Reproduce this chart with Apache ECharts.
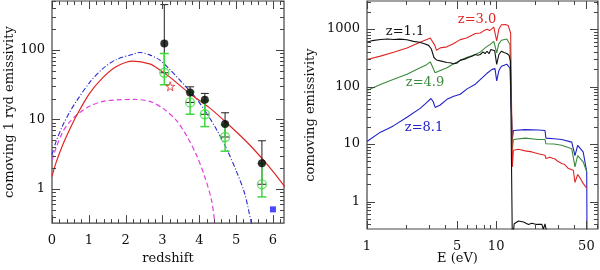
<!DOCTYPE html>
<html><head><meta charset="utf-8">
<script src="https://cdn.jsdelivr.net/npm/echarts@6/dist/echarts.min.js"></script>
<style>html,body{margin:0;padding:0;background:#fff}#c{width:600px;height:270px}</style>
</head><body><div id="c"></div>
<script>
// ---------- LEFT PANEL DATA ----------
var redZ = [0, 0.11, 0.29, 0.47, 0.66, 1.02, 1.38, 1.74, 2.2, 2.65, 2.92, 3.19, 3.74, 4.28, 4.82, 5.37, 5.91, 6.32];
var redV = [1.52, 2.4, 4.3, 7.0, 11.2, 23.7, 40, 57.5, 69, 63, 52, 41, 23.7, 14.7, 8.2, 4.3, 2.05, 1.08];
var blueZ = [0, 0.11, 0.29, 0.47, 0.66, 1.02, 1.38, 1.74, 2.2, 2.38, 2.65, 2.92, 3.19, 3.56, 3.92, 4.19, 4.46, 4.73, 5.0, 5.23, 5.41, 5.5];
var blueV = [3.1, 4.8, 8.2, 12.5, 18.2, 34, 54, 72.6, 87, 92, 85, 72, 53, 32.7, 20, 12.5, 7.3, 3.9, 1.84, 0.87, 0.33, 0.2];
var magZ = [0, 0.11, 0.29, 0.47, 0.66, 1.02, 1.38, 1.74, 2.2, 2.65, 3.01, 3.37, 3.65, 3.92, 4.15, 4.33, 4.42, 4.46];
var magV = [2.6, 3.9, 6.6, 9.1, 11.5, 15.5, 18.2, 19.1, 19.5, 18.2, 14.5, 9.8, 5.9, 3.1, 1.49, 0.70, 0.33, 0.2];

var obsZ = [3.05, 3.75, 4.15, 4.7, 5.7];
var blackV = [124, 24.5, 19.2, 8.6, 2.35];
var blackLo = [47, 17.6, 11.9, 5.6, 1.17];
var blackHi = [450, 29.5, 23.7, 12.5, 4.95];
var greenV = [47, 17.6, 11.9, 5.6, 1.17];
var greenLo = [31.6, 11.9, 7.9, 3.5, 0.77];
var greenHi = [89, 25, 18.6, 8.4, 2.33];
var starPt = [3.21, 30];
var squarePt = [6.0, 0.51];

var leftXLabels = [0, 1, 2, 3, 4, 5, 6];
var leftYLabels = [1, 10, 100];

// ---------- RIGHT PANEL DATA ----------
var z11E = [1.0, 1.1, 1.27, 1.45, 1.61, 1.8, 2.04, 2.29, 2.55, 2.75, 3.0, 3.15, 3.3, 3.45, 3.69, 4.16, 4.4, 4.7, 5.0, 5.27, 5.7, 6.1, 6.5, 6.9, 7.2, 7.55, 7.9, 8.2, 8.5, 8.8, 9.1, 9.4, 9.75, 10.1, 10.5, 11.0, 11.5, 12.1, 12.6, 12.9, 13.2, 13.35, 13.8, 14.9, 16.3, 17.8, 18.9, 20.6, 21.2, 22.6, 23.2, 23.9, 24.6, 25.5];
var z11V = [589, 630, 660, 670, 660, 668, 650, 611, 590, 560, 520, 450, 320, 290, 280, 262, 259, 250, 258, 288, 300, 320, 338, 361, 350, 361, 400, 375, 411, 372, 440, 412, 420, 243, 361, 412, 390, 375, 350, 277, 270, 0.2, 0.41, 0.46, 0.44, 0.40, 0.42, 0.40, 0.37, 0.40, 0.33, 0.41, 0.30, 0.2];
var z30E = [1.0, 1.27, 1.61, 2.04, 2.58, 2.9, 3.09, 3.2, 3.35, 3.45, 3.69, 4.16, 4.7, 5.27, 5.9, 6.5, 6.9, 7.55, 8.0, 8.5, 8.9, 9.2, 9.6, 9.9, 10.1, 10.5, 11.0, 11.8, 12.4, 12.95, 13.2, 13.35, 13.6, 14.9, 16.8, 18.9, 21.2, 23.9, 24.3, 26, 28.6, 30, 32.2, 34, 36.3, 39.6, 40.8, 42.8, 45, 47.2, 50.3];
var z30V = [296, 338, 395, 470, 589, 660, 700, 690, 520, 427, 470, 490, 560, 655, 700, 780, 835, 853, 930, 990, 940, 910, 1080, 1109, 620, 1000, 1186, 1200, 1150, 853, 800, 4.0, 7.8, 8.1, 7.6, 7.3, 6.8, 6.4, 5.6, 5.9, 5.5, 5.0, 4.6, 4.4, 3.75, 3.5, 2.15, 2.95, 2.5, 2.07, 1.7];
var z49E = [1.0, 1.27, 1.61, 2.04, 2.58, 2.9, 3.09, 3.2, 3.37, 3.69, 4.16, 4.7, 5.27, 5.9, 6.9, 7.55, 8.5, 9.0, 9.3, 9.6, 9.85, 10.1, 10.5, 11.0, 12.1, 12.8, 13.2, 13.35, 13.6, 16.8, 21.2, 23.9, 24.3, 28, 32.2, 38.5, 40.8, 42.8, 47.2, 50.3];
var z49V = [85, 109, 134, 163, 212, 240, 269, 250, 174, 191, 212, 250, 284, 320, 360, 400, 500, 540, 530, 611, 620, 385, 560, 638, 673, 537, 520, 8.0, 12.0, 12.7, 12.0, 12.0, 10.1, 10.0, 9.5, 8.3, 4.0, 6.3, 4.9, 3.3];
var z81E = [1.0, 1.27, 1.45, 1.61, 2.04, 2.58, 2.91, 3.13, 3.25, 3.37, 3.69, 4.16, 4.7, 5.27, 6.0, 6.9, 7.6, 8.5, 9.3, 9.8, 10.1, 10.5, 11.0, 12.1, 12.8, 13.2, 13.35, 13.6, 16.8, 21.2, 23.9, 24.3, 28, 32.2, 38.5, 40.8, 42.8, 47.2, 50.3, 50.6];
var z81V = [11.1, 16.1, 18.5, 20.9, 29.2, 41.7, 53, 62, 55, 43.4, 47.7, 60, 68, 73.6, 92, 110, 135, 170, 199, 205, 125, 190, 226, 245, 208, 200, 12, 17.2, 17.8, 17.5, 17.2, 12.7, 12.4, 12.0, 10.8, 6.3, 9.5, 7.3, 3.3, 0.1];

var rightXLabels = [1, 5, 10, 50];
var rightYLabels = [1, 10, 100, 1000];

// ---------- helpers ----------
function pairs(a, b) { return a.map(function (v, i) { return [v, b[i]]; }); }
var FONT = 'DejaVu Serif';
var FRAME = '#444';

function isIn(list, v) { for (var i = 0; i < list.length; i++) if (list[i] === v || Math.abs(list[i] - v) / list[i] < 1e-6) return true; return false; }

function tickData(xTicks, yTicks, xRef, yRef) {
  var d = [];
  xTicks.forEach(function (t) { d.push([t[0], yRef, t[1], 0]); });
  yTicks.forEach(function (t) { d.push([xRef, t[0], t[1], 1]); });
  return d;
}
function tickRender(params, api) {
  var cs = params.coordSys;
  var o = api.value(3), len = api.value(2);
  var p = api.coord([api.value(0), api.value(1)]);
  function st() { return { stroke: FRAME, lineWidth: 1 }; }
  if (o === 0) {
    var x = Math.round(p[0]) + 0.5;
    return { type: 'group', children: [
      { type: 'line', shape: { x1: x, y1: cs.y + cs.height, x2: x, y2: cs.y + cs.height - len }, style: st() },
      { type: 'line', shape: { x1: x, y1: cs.y, x2: x, y2: cs.y + len }, style: st() }
    ] };
  } else {
    var y = Math.round(p[1]) + 0.5;
    return { type: 'group', children: [
      { type: 'line', shape: { x1: cs.x, y1: y, x2: cs.x + len, y2: y }, style: st() },
      { type: 'line', shape: { x1: cs.x + cs.width, y1: y, x2: cs.x + cs.width - len, y2: y }, style: st() }
    ] };
  }
}
var MAJ = 8, MIN = 4;
var lxt = [];
for (var i = 0; i <= 31; i++) { var v = i * 0.2; if (v <= 6.3) lxt.push([Math.round(v * 10) / 10, (i % 5 === 0) ? MAJ : MIN]); }
var lyt = [];
[0.1, 1, 10, 100].forEach(function (dec) {
  for (var k = 1; k <= 9; k++) { var v = dec * k; if (v >= 0.33 && v <= 506) lyt.push([v, k === 1 ? MAJ : MIN]); }
});
var rxt = [];
[1, 10].forEach(function (dec) {
  for (var k = 1; k <= 9; k++) { var v = dec * k; if (v >= 1 && v <= 61.5) rxt.push([v, (k === 1 || k === 5) ? MAJ : MIN]); }
});
var ryt = [];
[0.1, 1, 10, 100, 1000].forEach(function (dec) {
  for (var k = 1; k <= 9; k++) { var v = dec * k; if (v >= 0.34 && v <= 3076) ryt.push([v, k === 1 ? MAJ : MIN]); }
});

function errRender(color, capW, lw) {
  return function (params, api) {
    var x = api.value(0), lo = api.value(2), hi = api.value(3);
    var a = api.coord([x, lo]), b = api.coord([x, hi]);
    function st() { return { stroke: color, lineWidth: lw }; }
    return { type: 'group', children: [
      { type: 'line', shape: { x1: a[0], y1: a[1], x2: b[0], y2: b[1] }, style: st() },
      { type: 'line', shape: { x1: a[0] - capW, y1: a[1], x2: a[0] + capW, y2: a[1] }, style: st() },
      { type: 'line', shape: { x1: b[0] - capW, y1: b[1], x2: b[0] + capW, y2: b[1] }, style: st() }
    ] };
  };
}
function errData(z, v, lo, hi) { return z.map(function (x, i) { return [x, v[i], lo[i], hi[i]]; }); }

var labelStyle = { fontFamily: FONT, fontSize: 13, color: '#111' };
var nameStyle = { fontFamily: FONT, fontSize: 13, color: '#111' };

var chart = echarts.init(document.getElementById('c'), null, { renderer: 'canvas' });
var option = {
  animation: false,
  backgroundColor: '#fff',
  grid: [
    { left: 52, top: 1, width: 232, height: 230, show: true, borderColor: FRAME, borderWidth: 1.2, backgroundColor: 'transparent' },
    { left: 367, top: 1, width: 231, height: 230, show: true, borderColor: FRAME, borderWidth: 1.2, backgroundColor: 'transparent' }
  ],
  xAxis: [
    { type: 'value', gridIndex: 0, min: 0, max: 6.3, interval: 1,
      axisLine: { show: false }, axisTick: { show: false }, splitLine: { show: false },
      axisLabel: Object.assign({ margin: 11, showMaxLabel: false, formatter: function (v) { return isIn(leftXLabels, v) ? String(v) : ''; } }, labelStyle),
      name: 'redshift', nameLocation: 'middle', nameGap: 23, nameTextStyle: nameStyle },
    { type: 'log', gridIndex: 1, min: 1, max: 61.5, logBase: 10,
      axisLine: { show: false }, axisTick: { show: false }, splitLine: { show: false },
      axisLabel: { show: false },
      name: 'E (eV)', nameLocation: 'middle', nameGap: 23, nameTextStyle: Object.assign({ padding: [0, 50, 0, 0] }, nameStyle) }
  ],
  yAxis: [
    { type: 'log', gridIndex: 0, min: 0.3236, max: 506, logBase: 10,
      axisLine: { show: false }, axisTick: { show: false }, splitLine: { show: false },
      axisLabel: Object.assign({ margin: 7, showMinLabel: false, showMaxLabel: false, formatter: function (v) { return isIn(leftYLabels, v) ? String(Math.round(v)) : ''; } }, labelStyle),
      name: 'comoving 1 ryd emissivity', nameLocation: 'middle', nameGap: 32, nameTextStyle: nameStyle },
    { type: 'log', gridIndex: 1, min: 0.333, max: 3076, logBase: 10,
      axisLine: { show: false }, axisTick: { show: false }, splitLine: { show: false },
      axisLabel: Object.assign({ margin: 7, showMinLabel: false, showMaxLabel: false, formatter: function (v) { return isIn(rightYLabels, v) ? String(Math.round(v)) : ''; } }, labelStyle),
      name: 'comoving emissivity', nameLocation: 'middle', nameGap: 50, nameTextStyle: nameStyle }
  ],
  series: [
    { type: 'custom', xAxisIndex: 0, yAxisIndex: 0, data: tickData(lxt, lyt, 1, 1), renderItem: tickRender, silent: true, z: 10 },
    { type: 'custom', xAxisIndex: 1, yAxisIndex: 1, data: tickData(rxt, ryt, 2, 1), renderItem: tickRender, silent: true, z: 10 },
    { type: 'custom', xAxisIndex: 1, yAxisIndex: 1, data: rightXLabels.map(function (v) { return [v, 1]; }), silent: true, z: 10,
      renderItem: function (params, api) {
        var cs = params.coordSys, p = api.coord([api.value(0), api.value(1)]);
        return { type: 'text', x: p[0], y: cs.y + cs.height + 11, style: { text: String(api.value(0)), align: 'center', verticalAlign: 'top', fontFamily: FONT, fontSize: 13, fill: '#111' } };
      } },
    { type: 'line', xAxisIndex: 0, yAxisIndex: 0, data: pairs(magZ, magV), showSymbol: false, smooth: 0.3, lineStyle: { color: '#e040e0', width: 1.2, type: [5, 3] }, z: 2 },
    { type: 'line', xAxisIndex: 0, yAxisIndex: 0, data: pairs(blueZ, blueV), showSymbol: false, smooth: 0.3, lineStyle: { color: '#2a2ad0', width: 1.1, type: [5, 2, 1, 2] }, z: 2 },
    { type: 'line', xAxisIndex: 0, yAxisIndex: 0, data: pairs(redZ, redV), showSymbol: false, smooth: 0.3, lineStyle: { color: '#e02525', width: 1.2 }, z: 2 },
    { type: 'custom', xAxisIndex: 0, yAxisIndex: 0, data: errData(obsZ, blackV, blackLo, blackHi), renderItem: errRender('#333', 4, 1.1), z: 3 },
    { type: 'custom', xAxisIndex: 0, yAxisIndex: 0, data: errData(obsZ, greenV, greenLo, greenHi), renderItem: errRender('#3ed83e', 4.5, 1.5), z: 4 },
    { type: 'scatter', xAxisIndex: 0, yAxisIndex: 0, data: pairs(obsZ, greenV), symbol: 'circle', symbolSize: 9, itemStyle: { color: 'transparent', borderColor: '#3ed83e', borderWidth: 1.3 }, z: 5 },
    { type: 'scatter', xAxisIndex: 0, yAxisIndex: 0, data: pairs(obsZ, blackV), symbol: 'circle', symbolSize: 8, itemStyle: { color: '#000' }, z: 6 },
    { type: 'scatter', xAxisIndex: 0, yAxisIndex: 0, data: [starPt], symbol: 'path://M50,0 L61,35 L98,35 L68,57 L79,91 L50,70 L21,91 L32,57 L2,35 L39,35 Z', symbolSize: 9, itemStyle: { color: 'transparent', borderColor: '#e02525', borderWidth: 1 }, z: 6 },
    { type: 'scatter', xAxisIndex: 0, yAxisIndex: 0, data: [squarePt], symbol: 'rect', symbolSize: 6, itemStyle: { color: '#1a1aff' }, z: 6 },
    { type: 'line', xAxisIndex: 1, yAxisIndex: 1, data: pairs(z81E, z81V), showSymbol: false, lineStyle: { color: '#2020c8', width: 1.1 }, z: 2 },
    { type: 'line', xAxisIndex: 1, yAxisIndex: 1, data: pairs(z49E, z49V), showSymbol: false, lineStyle: { color: '#3a8a3a', width: 1.1 }, z: 2 },
    { type: 'line', xAxisIndex: 1, yAxisIndex: 1, data: pairs(z30E, z30V), showSymbol: false, lineStyle: { color: '#e02525', width: 1.1 }, z: 2 },
    { type: 'line', xAxisIndex: 1, yAxisIndex: 1, data: pairs(z11E, z11V), showSymbol: false, lineStyle: { color: '#111', width: 1.1 }, z: 3 }
  ],
  graphic: [
    { type: 'text', x: 405, y: 32, style: { text: 'z=1.1', align: 'center', verticalAlign: 'middle', fontFamily: FONT, fontSize: 13, fill: '#111' } },
    { type: 'text', x: 477, y: 20, style: { text: 'z=3.0', align: 'center', verticalAlign: 'middle', fontFamily: FONT, fontSize: 13, fill: '#e02525' } },
    { type: 'text', x: 425, y: 83, style: { text: 'z=4.9', align: 'center', verticalAlign: 'middle', fontFamily: FONT, fontSize: 13, fill: '#3a8a3a' } },
    { type: 'text', x: 424, y: 128, style: { text: 'z=8.1', align: 'center', verticalAlign: 'middle', fontFamily: FONT, fontSize: 13, fill: '#2020c8' } }
  ]
};
chart.setOption(option);
</script></body></html>
